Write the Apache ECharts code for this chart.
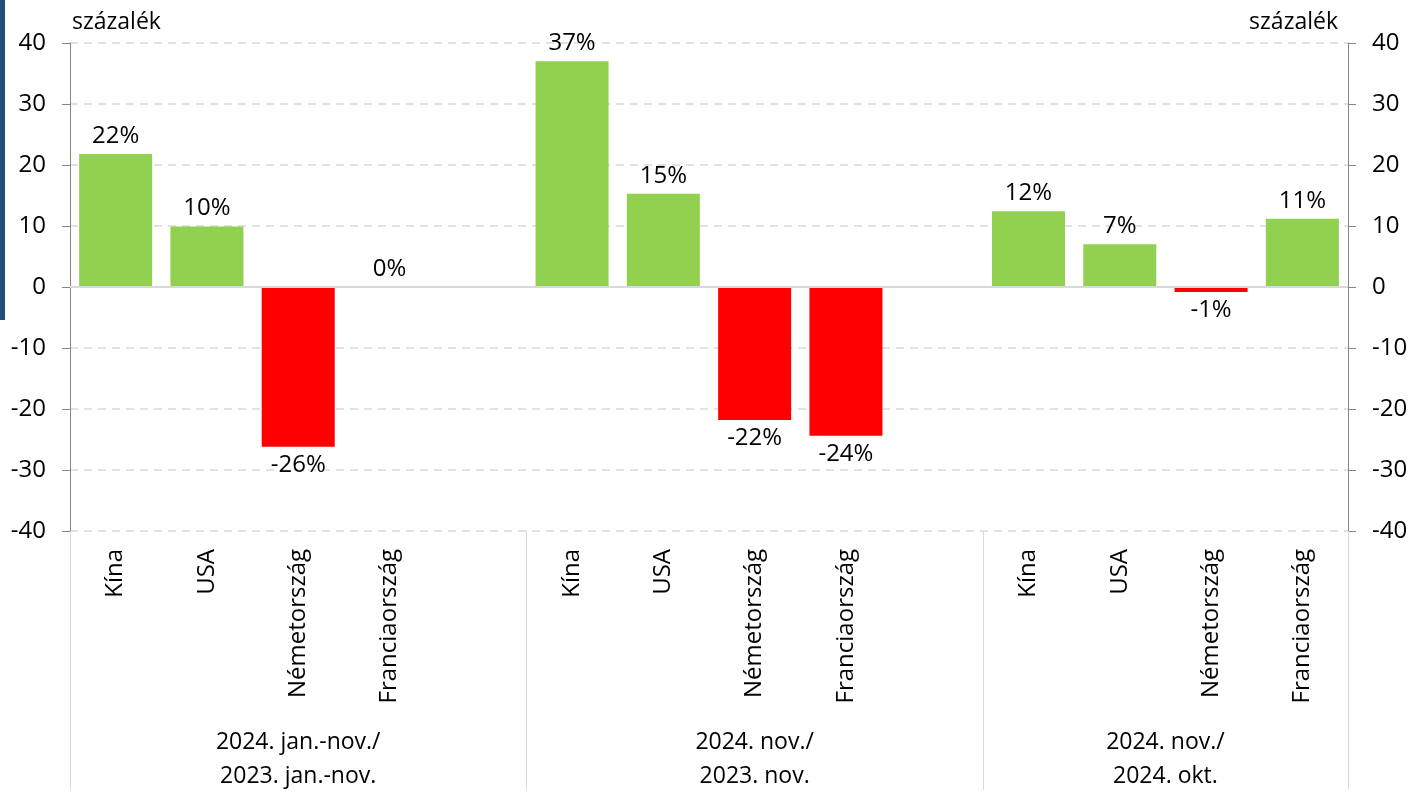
<!DOCTYPE html>
<html>
<head>
<meta charset="utf-8">
<style>
  html, body { margin: 0; padding: 0; background: #fff; overflow: hidden; }
  #chart { width: 1412px; height: 793px; }
</style>
<script src="https://cdn.jsdelivr.net/npm/echarts@6/dist/echarts.min.js"></script>
</head>
<body>
<div id="chart"></div>
<script>
// categories (blank slots separate the period groups)
const countries = ['Kína', 'USA', 'Németország', 'Franciaország', '',
                   'Kína', 'USA', 'Németország', 'Franciaország', '',
                   'Kína', 'USA', 'Németország', 'Franciaország']
// change in percent
const changes = [21.8, 9.9, -26.2, 0, null,
                 37.0, 15.3, -21.8, -24.4, null,
                 12.4, 7.0, -0.8, 11.2]
// period groups: label, first slot, slot count
const groupLabels = ['2024. jan.-nov./\n2023. jan.-nov.', '2024. nov./\n2023. nov.', '2024. nov./\n2024. okt.']
const groupStarts = [0, 5, 10]
const groupSizes = [5, 5, 4]
const yTicks = { min: -40, max: 40, interval: 10 }

const FONT = 'Open Sans'
const txt = '#000'
const chart = echarts.init(document.getElementById('chart'))

const groupCenters = groupStarts.map((s, i) => s + groupSizes[i] / 2)
const groupEdges = groupStarts.concat([groupStarts[2] + groupSizes[2]])

const barData = changes.map(v => v === null ? null : ({
  value: v,
  itemStyle: { color: v < 0 ? '#FF0000' : '#92D050' },
  label: { position: v < 0 ? 'bottom' : 'top' }
}))

const yAxisBase = {
  type: 'value', min: yTicks.min, max: yTicks.max, interval: yTicks.interval,
  name: 'százalék', nameLocation: 'end', nameGap: 9,
  axisLine: { show: true, lineStyle: { color: '#868686', width: 1 } },
  axisTick: { show: true, length: 8, lineStyle: { color: '#868686' } },
  axisLabel: { fontFamily: FONT, fontSize: 24, color: txt, margin: 24 }
}

chart.setOption({
  animation: false,
  textStyle: { fontFamily: FONT },
  grid: { left: 70, right: 64, top: 43, height: 491, containLabel: false },
  graphic: [{ type: 'rect', left: 0, top: 0, shape: { width: 5, height: 320 }, style: { fill: '#1F4E79' } }],
  xAxis: [{
    type: 'category', data: countries, position: 'bottom',
    axisLine: { show: false, onZero: false },
    axisTick: { show: false },
    axisLabel: { rotate: 90, interval: 0, fontFamily: FONT, fontSize: 24, color: txt, margin: 18 }
  }, {
    type: 'value', min: 0, max: 14, position: 'bottom',
    axisLine: { show: false, onZero: false },
    splitLine: { show: false },
    axisTick: { show: true, customValues: groupEdges, length: 259, lineStyle: { color: '#d9d9d9', width: 1 } },
    axisLabel: {
      customValues: groupCenters, fontFamily: FONT, fontSize: 23, color: txt, margin: 194, lineHeight: 34,
      formatter: v => groupLabels[groupCenters.indexOf(v)]
    }
  }],
  yAxis: [Object.assign({}, yAxisBase, {
    position: 'left',
    nameTextStyle: { fontFamily: FONT, fontSize: 23, color: txt, align: 'left', padding: [0, 0, 0, 2] },
    splitLine: { show: true, lineStyle: { color: '#d9d9d9', type: [8, 6], width: 1.5 } }
  }), Object.assign({}, yAxisBase, {
    position: 'right',
    nameTextStyle: { fontFamily: FONT, fontSize: 23, color: txt, align: 'right', padding: [0, 10, 0, 0] },
    splitLine: { show: false }
  })],
  series: [{
    type: 'bar', data: barData, xAxisIndex: 0, yAxisIndex: 0,
    barCategoryGap: '20%',
    label: {
      show: true, distance: 6, fontFamily: FONT, fontSize: 24, color: txt,
      formatter: p => Math.round(p.value) + '%'
    },
    markLine: {
      silent: true, symbol: 'none', label: { show: false },
      lineStyle: { color: '#d9d9d9', type: 'solid', width: 2 },
      data: [{ yAxis: 0 }]
    }
  }]
})
</script>
</body>
</html>
